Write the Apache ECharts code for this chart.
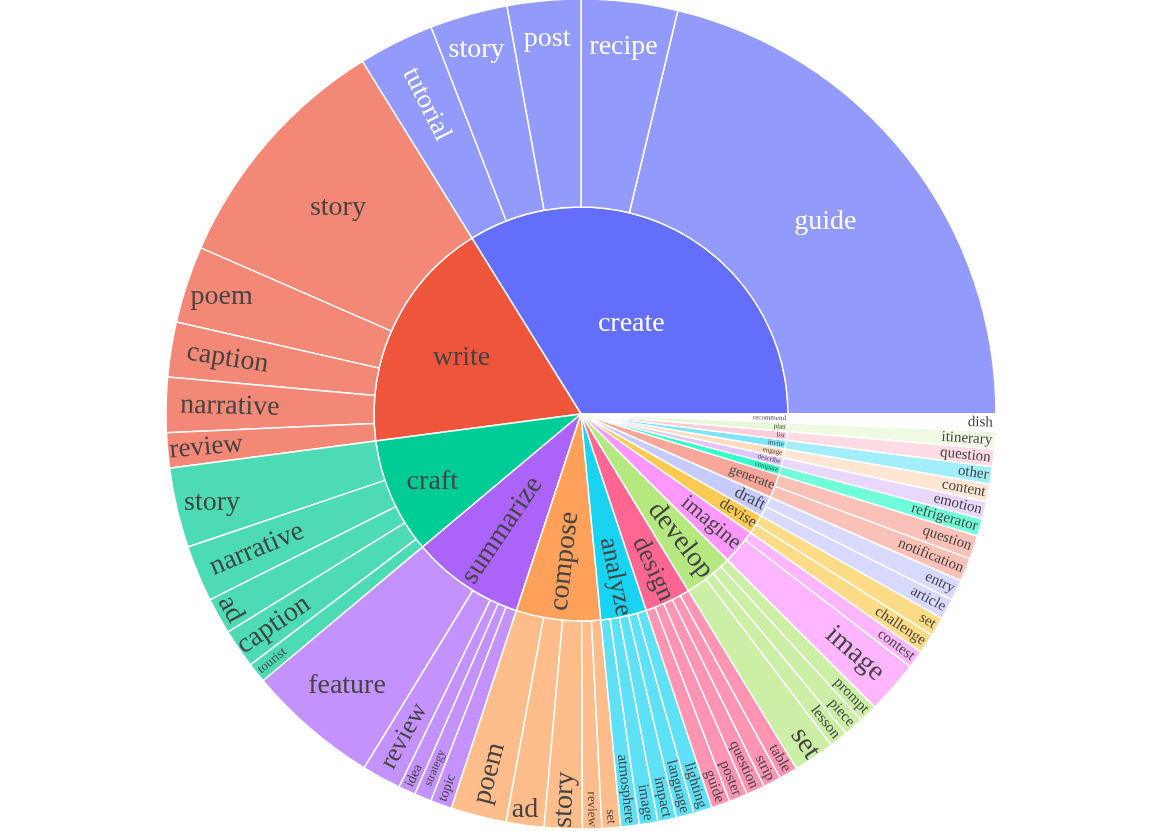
<!DOCTYPE html>
<html>
<head>
<meta charset="utf-8">
<script src="https://cdn.jsdelivr.net/npm/echarts@6/dist/echarts.min.js"></script>
<style>
  html, body { margin: 0; padding: 0; background: #fff; }
  #chart { width: 1163px; height: 831px; }
</style>
</head>
<body>
<div id="chart"></div>
<script>
// root verbs, in the order they go round the inner ring
const verbs = ['create', 'write', 'craft', 'summarize', 'compose', 'analyze', 'design', 'develop',
  'imagine', 'devise', 'draft', 'generate', 'compare', 'describe', 'engage', 'invite', 'list', 'plan', 'recommend'];

// leaf nouns: parent verb, noun, count
const leafVerb = [
  'create', 'create', 'create', 'create', 'create',
  'write', 'write', 'write', 'write', 'write',
  'craft', 'craft', 'craft', 'craft', 'craft',
  'summarize', 'summarize', 'summarize', 'summarize', 'summarize',
  'compose', 'compose', 'compose', 'compose', 'compose',
  'analyze', 'analyze', 'analyze', 'analyze', 'analyze',
  'design', 'design', 'design', 'design', 'design',
  'develop', 'develop', 'develop', 'develop',
  'imagine', 'imagine',
  'devise', 'devise',
  'draft', 'draft',
  'generate', 'generate',
  'compare', 'describe', 'engage', 'invite', 'list', 'plan', 'recommend'
];
const leafNoun = [
  'guide', 'recipe', 'post', 'story', 'tutorial',
  'story', 'poem', 'caption', 'narrative', 'review',
  'story', 'narrative', 'ad', 'caption', 'tourist',
  'feature', 'review', 'idea', 'strategy', 'topic',
  'poem', 'ad', 'story', 'review', 'set',
  'atmosphere', 'image', 'impact', 'language', 'lighting',
  'guide', 'poster', 'question', 'strip', 'table',
  'set', 'lesson', 'piece', 'prompt',
  'image', 'contest',
  'challenge', 'set',
  'article', 'entry',
  'notification', 'question',
  'refrigerator', 'emotion', 'content', 'other', 'question', 'itinerary', 'dish'
];
const leafCount = [
  765, 135, 103, 109, 106,
  346, 108, 77, 77, 49,
  112, 79, 51, 55, 28,
  185, 55, 24, 24, 30,
  78, 53, 53, 27, 26,
  26, 26, 26, 25, 26,
  26, 26, 26, 25, 26,
  58, 26, 28, 26,
  74, 25,
  28, 27,
  29, 29,
  33, 33,
  24.5, 24.5, 24.5, 24.5, 24.5, 24.5, 24
];

// plotly-like colorway, extended with 20% lighter copies
const colorway = ['#636efa', '#EF553B', '#00cc96', '#ab63fa', '#FFA15A', '#19d3f3', '#FF6692', '#B6E880', '#FF97FF', '#FECB52'];
const FONT = 'Liberation Serif, Times New Roman, serif';

function hexToRgb(h) {
  h = h.replace('#', '');
  return [0, 2, 4].map(i => parseInt(h.substr(i, 2), 16));
}
function rgbToHex(c) {
  return '#' + c.map(v => Math.round(Math.max(0, Math.min(255, v))).toString(16).padStart(2, '0')).join('');
}
function hue2rgb(p, q, t) {
  if (t < 0) t += 1;
  if (t > 1) t -= 1;
  if (t < 1 / 6) return p + (q - p) * 6 * t;
  if (t < 1 / 2) return q;
  if (t < 2 / 3) return p + (q - p) * (2 / 3 - t) * 6;
  return p;
}
function lighten(hex, amt) {
  const [r, g, b] = hexToRgb(hex).map(v => v / 255);
  const max = Math.max(r, g, b), min = Math.min(r, g, b);
  let h = 0, s = 0, l = (max + min) / 2;
  if (max !== min) {
    const d = max - min;
    s = l > 0.5 ? d / (2 - max - min) : d / (max + min);
    if (max === r) h = (g - b) / d + (g < b ? 6 : 0);
    else if (max === g) h = (b - r) / d + 2;
    else h = (r - g) / d + 4;
    h /= 6;
  }
  l = Math.min(1, l + amt);
  let rr, gg, bb;
  if (s === 0) { rr = gg = bb = l; }
  else {
    const q = l < 0.5 ? l * (1 + s) : l + s - l * s;
    const p = 2 * l - q;
    rr = hue2rgb(p, q, h + 1 / 3); gg = hue2rgb(p, q, h); bb = hue2rgb(p, q, h - 1 / 3);
  }
  return rgbToHex([rr * 255, gg * 255, bb * 255]);
}
// leaf = parent colour at 0.7 opacity on white
function fade(hex, a) {
  return rgbToHex(hexToRgb(hex).map(v => v * a + 255 * (1 - a)));
}
const palette = colorway.concat(colorway.map(c => lighten(c, 0.2)));

// label look per sector (rot: 0 = horizontal, number = degrees, default radial)
// end = distance from the outer edge, shift = [dx, dy] nudge of the text
const innerStyle = {
  create: { rot: 0, size: 28 },
  write: { rot: 0, size: 28, shift: [-26, -12] },
  craft: { rot: 0, size: 28, shift: [-54, 26] },
  summarize: { size: 28, end: 5 },
  compose: { size: 28, end: 9 },
  analyze: { size: 26, end: 1 },
  design: { size: 26, end: 2 },
  develop: { size: 28, end: 2 },
  imagine: { size: 22, end: 2 },
  devise: { size: 16, end: 1 },
  draft: { size: 17, end: 2 },
  generate: { size: 14, end: 1 }
};
const outerStyle = {
  'create/guide': { rot: 0, size: 28 },
  'create/recipe': { rot: 0, size: 28, shift: [6, -59] },
  'create/post': { rot: 0, size: 28, shift: [-6, -66] },
  'create/story': { rot: 0, size: 28, shift: [-20, -65] },
  'create/tutorial': { size: 27, end: 30 },
  'write/story': { rot: 0, size: 28, shift: [-8, -3] },
  'write/poem': { rot: 0, size: 28, shift: [-64, -20] },
  'write/caption': { size: 28, end: 16 },
  'write/narrative': { size: 28, end: 14 },
  'write/review': { size: 27, end: 2 },
  'craft/story': { rot: 0, size: 28, shift: [-66, 18] },
  'craft/narrative': { size: 28, end: 14 },
  'craft/ad': { rot: -61, size: 28, shift: [0, 90] },
  'craft/caption': { size: 28, end: 1 },
  'craft/tourist': { size: 13, end: 3 },
  'summarize/feature': { rot: 0, size: 28, shift: [-31, 36] },
  'summarize/review': { size: 26, end: 12 },
  'summarize/idea': { size: 14, end: 5 },
  'summarize/strategy': { size: 12, end: 13 },
  'summarize/topic': { size: 14, end: 4 },
  'compose/poem': { size: 28, end: 13 },
  'compose/ad': { rot: 0, size: 28, shift: [-14, 87] },
  'compose/story': { size: 28, end: 1 },
  'compose/review': { size: 13, end: 2 },
  'compose/set': { size: 13, end: 4 },
  'develop/set': { size: 28, end: 1 },
  'imagine/image': { size: 28, end: 17 }
};

function makeLabel(name, s, white) {
  const color = white ? '#ffffff' : '#444444';
  const l = {
    rotate: s.rot === undefined ? 'radial' : s.rot,
    fontSize: s.size,
    fontFamily: FONT,
    color: color
  };
  if (s.end !== undefined) { l.align = 'right'; l.distance = s.end; }
  else { l.align = 'center'; }
  if (s.shift) {
    // spacer tokens push the real text off the sector centre
    const dx = s.shift[0], dy = s.shift[1];
    let line = '{t|' + name + '}';
    if (dx > 0) line = '{h| }' + line;
    else if (dx < 0) line = line + '{h| }';
    let text = line;
    if (dy < 0) text = line + '\n{v| }';
    else if (dy > 0) text = '{v| }\n' + line;
    l.formatter = text;
    l.rich = {
      t: { fontSize: s.size, fontFamily: FONT, color: color, lineHeight: Math.round(s.size * 1.2) },
      h: { width: Math.abs(dx) * 2, fontSize: 1, lineHeight: 1 },
      v: { height: Math.abs(dy) * 2, lineHeight: Math.abs(dy) * 2, fontSize: 1 }
    };
  }
  return l;
}

const tree = verbs.map((v, i) => {
  const base = palette[i];
  const white = v === 'create';
  const children = [];
  leafVerb.forEach((pv, k) => {
    if (pv !== v) return;
    const st = outerStyle[v + '/' + leafNoun[k]] || { size: 15, end: 3 };
    children.push({
      name: leafNoun[k],
      value: leafCount[k],
      itemStyle: { color: fade(base, 0.7) },
      label: makeLabel(leafNoun[k], st, white)
    });
  });
  const ist = innerStyle[v] || { size: 7, end: 2 };
  return { name: v, itemStyle: { color: base }, label: makeLabel(v, ist, white), children };
});

const chart = echarts.init(document.getElementById('chart'));
chart.setOption({
  animation: false,
  series: [{
    type: 'sunburst',
    center: [581, 414],
    radius: [0, 415],
    startAngle: 0,
    clockwise: false,
    sort: null,
    nodeClick: false,
    emphasis: { focus: 'none' },
    itemStyle: { borderColor: '#ffffff', borderWidth: 1.5 },
    levels: [
      {},
      { r0: 0, r: 207 },
      { r0: 207, r: 415 }
    ],
    data: tree
  }]
});
</script>
</body>
</html>
